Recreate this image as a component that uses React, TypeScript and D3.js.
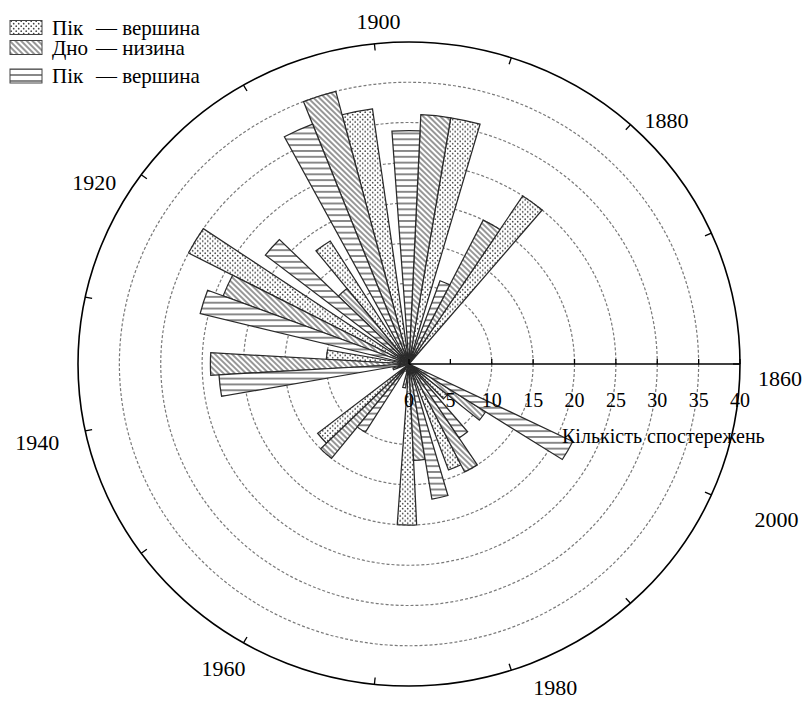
import React from "react";
import * as d3 from "d3";

// ---- data (decade groups, counts per series) ----
const decades = [1860, 1870, 1880, 1890, 1900, 1910, 1920, 1930, 1940, 1950, 1960, 1970, 1980, 1990, 2000];
const peakA = [0, 0, 25, 31, 32, 18, 30, 10, 2, 14, 0, 20, 14, 6, 0];
const trough = [0, 0, 20, 31, 35, 12, 24, 24, 0, 15, 1, 12, 15, 11, 0];
const peakB = [0, 0, 11, 29, 32, 22, 26, 23, 0, 10, 3, 17, 11, 22, 0];
const seriesNames = ["Пік", "Дно", "Пік"];
const seriesDescs = ["— вершина", "— низина", "— вершина"];
const radialTicks = [0, 5, 10, 15, 20, 25, 30, 35, 40];
const gridValues = [10, 15, 20, 25, 30, 35];
const yearLabels = [1860, 1880, 1900, 1920, 1940, 1960, 1980, 2000];
const yearTicks = d3.range(1860, 2010, 10);
const radialTitle = "Кількість спостережень";

// ---- layout ----
const W = 808, H = 701;
const cx = 409, cy = 364, R = 331, K = 322 / 331;
const FONT = "'Liberation Serif', 'Times New Roman', serif";
const labelNudge: Record<number, [number, number]> = {
  1860: [40, 14], 1880: [36, -4], 1900: [4, -22], 1920: [-47, 8],
  1940: [-48, 12], 1960: [-20, 26], 1980: [44, 17], 2000: [65, 25],
};
const legendRowY = [27.5, 47.5, 76];

export default function App() {
  const rScale = d3.scaleLinear().domain([0, 40]).range([0, R]);
  const theta = d3.scaleLinear().domain([1860, 2010]).range([0, 2 * Math.PI]);
  const band = d3.scaleBand<number>().domain([0, 1, 2]).range([0, 10]).paddingInner(0).paddingOuter(0.286);
  const series = [peakA, trough, peakB];
  const fills = ["url(#dots)", "url(#hatch)", "url(#hlines)"];
  const arc = d3.arc<any>();

  React.useEffect(() => {
    document.body.style.margin = "0";
  }, []);

  const pt = (year: number, rad: number): [number, number] => {
    const t = theta(year);
    return [cx + rad * Math.cos(t), cy - rad * K * Math.sin(t)];
  };

  const bars: React.ReactElement[] = [];
  series.forEach((vals, si) => {
    decades.forEach((dec, di) => {
      const v = vals[di];
      if (!v) return;
      const y0 = dec + (band(si) as number);
      const y1 = y0 + band.bandwidth();
      const t0 = theta(y0), t1 = theta(y1);
      const d = arc({ innerRadius: 0, outerRadius: rScale(v), startAngle: Math.PI / 2 - t1, endAngle: Math.PI / 2 - t0 }) as string;
      bars.push(
        <path key={`b${si}-${di}`} d={d} fill={fills[si]} stroke="#2a2a2a" strokeWidth={1.25}
          vectorEffect="non-scaling-stroke" strokeLinejoin="miter" />
      );
    });
  });

  return (
    <svg width={W} height={H} viewBox={`0 0 ${W} ${H}`}
      style={{ display: "block", background: "#fff", position: "absolute", left: 0, top: 0 }}>
      <defs>
        <pattern id="dots" patternUnits="userSpaceOnUse" width={5} height={5}>
          <rect width={5} height={5} fill="#fff" />
          <circle cx={1.2} cy={1.2} r={0.85} fill="#444" />
          <circle cx={3.7} cy={3.7} r={0.85} fill="#444" />
        </pattern>
        <pattern id="hatch" patternUnits="userSpaceOnUse" width={4} height={4} patternTransform="rotate(45)">
          <rect width={4} height={4} fill="#fff" />
          <line x1={0} y1={2} x2={4} y2={2} stroke="#6a6a6a" strokeWidth={1.4} />
        </pattern>
        <pattern id="hlines" patternUnits="userSpaceOnUse" width={6} height={6}>
          <rect width={6} height={6} fill="#fff" />
          <line x1={0} y1={3} x2={6} y2={3} stroke="#6a6a6a" strokeWidth={1.6} />
        </pattern>
      </defs>

      {/* grid */}
      {gridValues.map((v) => (
        <ellipse key={`g${v}`} cx={cx} cy={cy} rx={rScale(v)} ry={rScale(v) * K}
          fill="none" stroke="#7a7a7a" strokeWidth={1.2} strokeDasharray="3,2" />
      ))}

      {/* bars */}
      <g transform={`translate(${cx},${cy}) scale(1,${K})`}>{bars}</g>

      {/* outer circle */}
      <ellipse cx={cx} cy={cy} rx={R} ry={R * K} fill="none" stroke="#000" strokeWidth={1.6} />
      {yearTicks.map((y) => {
        const [x1, y1] = pt(y, R);
        const [x2, y2] = pt(y, R - 7);
        return <line key={`t${y}`} x1={x1} y1={y1} x2={x2} y2={y2} stroke="#000" strokeWidth={1.3} />;
      })}
      {yearLabels.map((y) => {
        const [x, yy] = pt(y, R);
        const [dx, dy] = labelNudge[y];
        return (
          <text key={`yl${y}`} x={x + dx} y={yy + dy} textAnchor="middle" dominantBaseline="central"
            fontFamily={FONT} fontSize={22} fill="#000">{y}</text>
        );
      })}

      {/* radial axis */}
      <line x1={cx} y1={cy} x2={cx + R} y2={cy} stroke="#000" strokeWidth={1.6} />
      {radialTicks.map((v) => (
        <g key={`r${v}`}>
          <line x1={cx + rScale(v)} y1={cy} x2={cx + rScale(v)} y2={cy - 5} stroke="#000" strokeWidth={1.3} />
          <text x={cx + rScale(v)} y={cy + 36} textAnchor="middle" dominantBaseline="central"
            fontFamily={FONT} fontSize={20} fill="#000">{v}</text>
        </g>
      ))}
      <text x={562} y={cy + 72} dominantBaseline="central" fontFamily={FONT} fontSize={20} fill="#000">{radialTitle}</text>

      {/* legend */}
      {seriesNames.map((name, i) => {
        const y = legendRowY[i];
        return (
          <g key={`lg${i}`}>
            <rect x={10} y={y - 7} width={32} height={14} fill={fills[i]} stroke="#444" strokeWidth={1} />
            <text x={52} y={y} dominantBaseline="central" fontFamily={FONT} fontSize={21} fill="#000">{name}</text>
            <text x={96} y={y} dominantBaseline="central" fontFamily={FONT} fontSize={21} fill="#000">{seriesDescs[i]}</text>
          </g>
        );
      })}
    </svg>
  );
}
